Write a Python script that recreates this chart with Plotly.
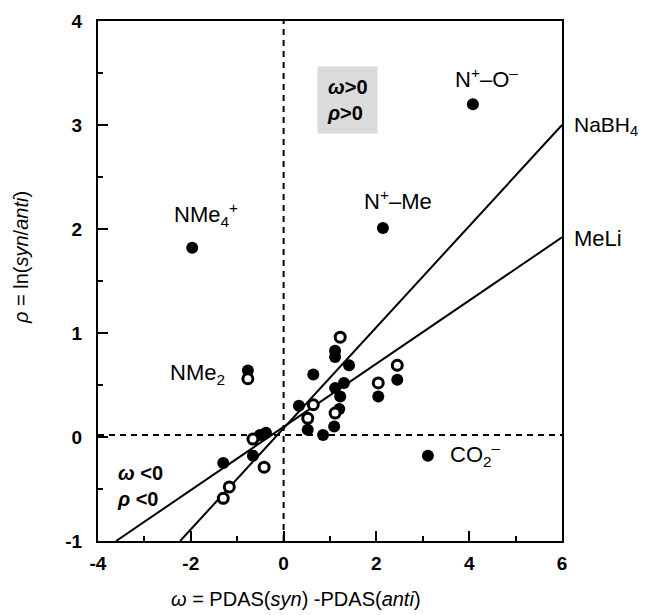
import plotly.graph_objects as go

# ---- data ----
filled_x = [-1.97, 4.08, 2.14, 3.11, -0.77,
            1.11, 1.11, 1.41, 0.64, 2.45, 2.04, 1.11, 1.30, 1.22, 1.20, 1.09, 0.85, 0.52, 0.33,
            -1.30, -0.66, -0.51, -0.38]
filled_y = [1.82, 3.20, 2.01, -0.18, 0.64,
            0.83, 0.77, 0.69, 0.60, 0.55, 0.39, 0.47, 0.52, 0.39, 0.27, 0.10, 0.02, 0.07, 0.30,
            -0.25, -0.18, 0.02, 0.04]
open_x = [-0.77, 1.22, 2.45, 2.04, 1.11, 0.52, 0.64, -0.42, -0.66, -1.17, -1.30]
open_y = [0.56, 0.96, 0.69, 0.52, 0.23, 0.18, 0.31, -0.29, -0.02, -0.48, -0.59]

nabh4_x = [-2.23, 6.0]
nabh4_y = [-1.0, 3.0]
meli_x = [-3.61, 6.0]
meli_y = [-1.0, 1.92]

x_tickvals = [-4, -2, 0, 2, 4, 6]
x_ticktext = ["-4", "-2", "0", "2", "4", "6"]
y_tickvals = [-1, 0, 1, 2, 3, 4]
y_ticktext = ["-1", "0", "1", "2", "3", "4"]

x_range = [-4, 6]
y_range = [-1, 4]

# ---- geometry (window pixels; page body has an 8px margin) ----
OFF = 8
L, R, T, B = 98, 562, 21, 541
W, H = 647 - OFF, 615 - OFF
def pxp(xp):  # window pixel -> paper fraction
    return (xp - L) / (R - L)
def pyp(yp):
    return (B - yp) / (B - T)

FONT = "Liberation Sans, Arial, sans-serif"

fig = go.Figure()

# dashed reference lines
fig.add_trace(go.Scatter(x=[0, 0], y=y_range, mode="lines",
                         line=dict(color="black", width=2, dash="6px,5px"),
                         hoverinfo="skip", showlegend=False))
fig.add_trace(go.Scatter(x=x_range, y=[0.02, 0.02], mode="lines",
                         line=dict(color="black", width=2, dash="6px,5px"),
                         hoverinfo="skip", showlegend=False))

# regression lines
fig.add_trace(go.Scatter(x=nabh4_x, y=nabh4_y, mode="lines",
                         line=dict(color="black", width=2), showlegend=False))
fig.add_trace(go.Scatter(x=meli_x, y=meli_y, mode="lines",
                         line=dict(color="black", width=2), showlegend=False))

# points
fig.add_trace(go.Scatter(x=filled_x, y=filled_y, mode="markers",
                         marker=dict(color="black", size=12, line=dict(width=0)),
                         showlegend=False))
fig.add_trace(go.Scatter(x=open_x, y=open_y, mode="markers",
                         marker=dict(color="white", size=10, line=dict(color="black", width=3)),
                         showlegend=False))

ann = []
def label(text, xp, yp, anchor="center", size=22, angle=0):
    ann.append(dict(x=pxp(xp), y=pyp(yp), xref="paper", yref="paper", text=text, showarrow=False,
                    xanchor=anchor, yanchor="middle", textangle=angle,
                    font=dict(family=FONT, size=size, color="black")))

label("NMe<sub>4</sub><sup>+</sup>", 206, 214)
label("N<sup>+</sup>–O<sup>–</sup>", 486, 78)
label("N<sup>+</sup>–Me", 398, 200)
label("NaBH<sub>4</sub>", 572, 126, anchor="left", size=21)
label("MeLi", 572, 239, anchor="left")
label("NMe<sub>2</sub>", 197, 374)
label("CO<sub>2</sub><sup>–</sup>", 475, 454)

# axis titles
label("<i>ω</i> = PDAS(<i>syn</i>) -PDAS(<i>anti</i>)", 296, 599, size=20)
label("<i>ρ</i> = ln(<i>syn</i>/<i>anti</i>)", 21, 258, size=20, angle=-90)

# quadrant boxes
ann.append(dict(x=pxp(347), y=pyp(100), xref="paper", yref="paper",
                text="<b><i>ω</i>>0</b><br><b><i>ρ</i>>0</b>", showarrow=False,
                xanchor="center", yanchor="middle", align="left",
                font=dict(family=FONT, size=20, color="black"),
                bgcolor="rgba(190,190,190,0.55)", borderpad=9))
ann.append(dict(x=pxp(140), y=pyp(486), xref="paper", yref="paper",
                text="<b><i>ω</i> <0</b><br><b><i>ρ</i> <0</b>", showarrow=False,
                xanchor="center", yanchor="middle", align="left",
                font=dict(family=FONT, size=20, color="black")))

fig.update_layout(
    width=W, height=H,
    margin=dict(l=L - OFF, r=W - (R - OFF), t=T - OFF, b=H - (B - OFF)),
    paper_bgcolor="white", plot_bgcolor="white",
    annotations=ann,
    showlegend=False,
    font=dict(family=FONT, color="black"),
)

fig.update_xaxes(range=x_range, tickmode="array", tickvals=x_tickvals, ticktext=x_ticktext,
                 ticks="inside", ticklen=10, tickwidth=2, automargin=False,
                 tickcolor="black", showline=True, linecolor="black", linewidth=2, mirror=True,
                 showgrid=False, zeroline=False, ticklabelstandoff=4,
                 minor=dict(dtick=1, tick0=-4, ticks="inside", ticklen=5, tickwidth=2, tickcolor="black",
                            showgrid=False),
                 tickfont=dict(family=FONT, size=19, color="black", weight="bold"))
fig.update_yaxes(range=y_range, tickmode="array", tickvals=y_tickvals, ticktext=y_ticktext,
                 ticks="inside", ticklen=10, tickwidth=2, automargin=False,
                 tickcolor="black", showline=True, linecolor="black", linewidth=2, mirror=True,
                 showgrid=False, zeroline=False, ticklabelstandoff=10,
                 minor=dict(dtick=0.5, tick0=-1, ticks="inside", ticklen=5, tickwidth=2, tickcolor="black",
                            showgrid=False),
                 tickfont=dict(family=FONT, size=19, color="black", weight="bold"))

fig.write_html("out.html")
